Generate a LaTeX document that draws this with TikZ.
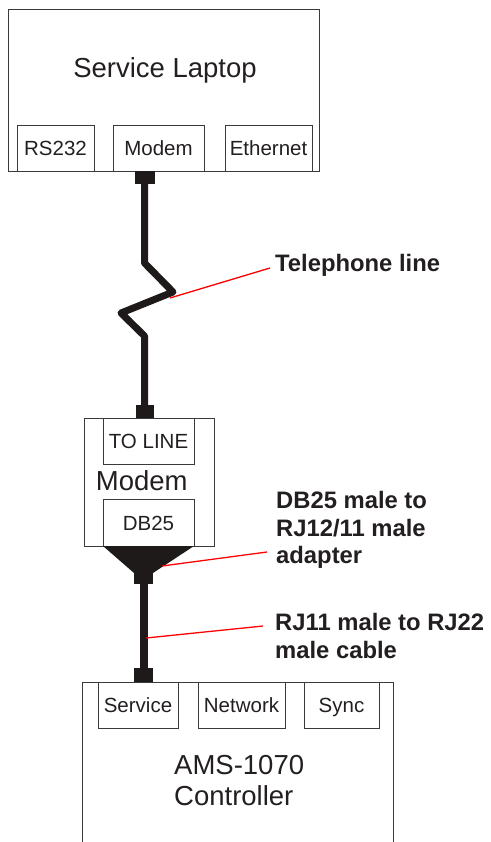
\documentclass[tikz,border=0pt]{standalone}
\usepackage{fontspec}
\setmainfont{Liberation Sans}
\definecolor{linec}{HTML}{3A3A3A}
\definecolor{cablec}{HTML}{1E1A1A}
\definecolor{textc}{HTML}{231F20}
\begin{document}
\begin{tikzpicture}[x=1pt,y=-1pt,
  box/.style={draw=linec,line width=0.9pt,rectangle,inner sep=0pt,outer sep=0pt},
  port/.style={box,font=\fontsize{20.5}{24}\selectfont,text=textc,text height=15pt,text depth=0pt},
  plug/.style={fill=cablec,rectangle,inner sep=0pt,outer sep=0pt},
  cable/.style={draw=cablec,line width=7pt,line join=round},
  leader/.style={draw=red,line width=1.3pt},
  bigtext/.style={font=\fontsize{27.5}{31}\selectfont,text=textc,inner sep=0pt,anchor=base},
  tag/.style={font=\bfseries\fontsize{23.8}{28}\selectfont,text=textc,inner sep=0pt,anchor=base west}]
\useasboundingbox (0,0) rectangle (490,842);

% Service laptop
\node[box,minimum width=311pt,minimum height=162pt] (laptop) at (163.5,90) {};
\node[bigtext] (laptopname) at (165,78) {Service Laptop};
\node[port,minimum width=77pt,minimum height=46pt] (rs) at (55.5,148) {RS232};
\node[port,minimum width=91pt,minimum height=46pt] (lmodem) at (158.5,148) {Modem};
\node[port,minimum width=87pt,minimum height=46pt] (eth) at (268.5,148) {Ethernet};

% telephone line
\node[plug,minimum width=20pt,minimum height=13pt] (plugA) at (144.5,177.5) {};
\node[plug,minimum width=18pt,minimum height=13pt] (plugB) at (144.5,411.5) {};
\draw[cable] (plugA.south) -- (144.5,263) -- (173,292) -- (121,313) -- (144.5,336) -- (plugB.north);

% Modem
\node[box,minimum width=130pt,minimum height=128pt] (modem) at (149,482) {};
\node[port,minimum width=91pt,minimum height=46pt] (toline) at (148.5,441) {TO LINE};
\node[bigtext] (modemname) at (141.7,490) {Modem};
\node[port,minimum width=91pt,minimum height=47pt] (db) at (148.5,522.5) {DB25};

% adapter and cable
\node[plug,minimum width=19pt,minimum height=11pt] (plugC) at (143.5,578.5) {};
\fill[cablec] (db.south west) -- (db.south east) -- (plugC.north east) -- (plugC.north west) -- cycle;
\node[plug,minimum width=19pt,minimum height=14pt] (plugD) at (143.5,675) {};
\draw[cablec,line width=8pt] (plugC.south) -- (plugD.north);

% Controller
\node[inner sep=0pt,outer sep=0pt,minimum width=311pt,minimum height=160pt] (ctrl) at (237.5,762) {};
\draw[linec,line width=0.9pt] (ctrl.south west) -- (ctrl.north west) -- (ctrl.north east) -- (ctrl.south east);
\node[port,minimum width=80pt,minimum height=46pt] (service) at (138,705) {Service};
\node[port,minimum width=87pt,minimum height=46pt] (network) at (241.5,705) {Network};
\node[port,minimum width=75pt,minimum height=46pt] (sync) at (341.5,705) {Sync};
\node[bigtext,anchor=base west] (ctrlname1) at (174,774) {AMS-1070};
\node[bigtext,anchor=base west] (ctrlname2) at (174,805) {Controller};

% labels
\node[tag] (telname) at (275,271.7) {Telephone line};
\coordinate (telfrom) at (170,298);
\coordinate (telto) at (270,268);
\draw[leader] (telfrom) -- (telto);

\node[tag] (adname1) at (276,508.5) {DB25 male to};
\node[tag] (adname2) at (276,536) {RJ12/11 male};
\node[tag] (adname3) at (276,563.5) {adapter};
\coordinate (adfrom) at (162,566);
\coordinate (adto) at (267,552);
\draw[leader] (adfrom) -- (adto);

\node[tag] (cbname1) at (275,630) {RJ11 male to RJ22};
\node[tag] (cbname2) at (275,658.3) {male cable};
\coordinate (cbfrom) at (146,638);
\coordinate (cbto) at (263,626);
\draw[leader] (cbfrom) -- (cbto);
\end{tikzpicture}
\end{document}
